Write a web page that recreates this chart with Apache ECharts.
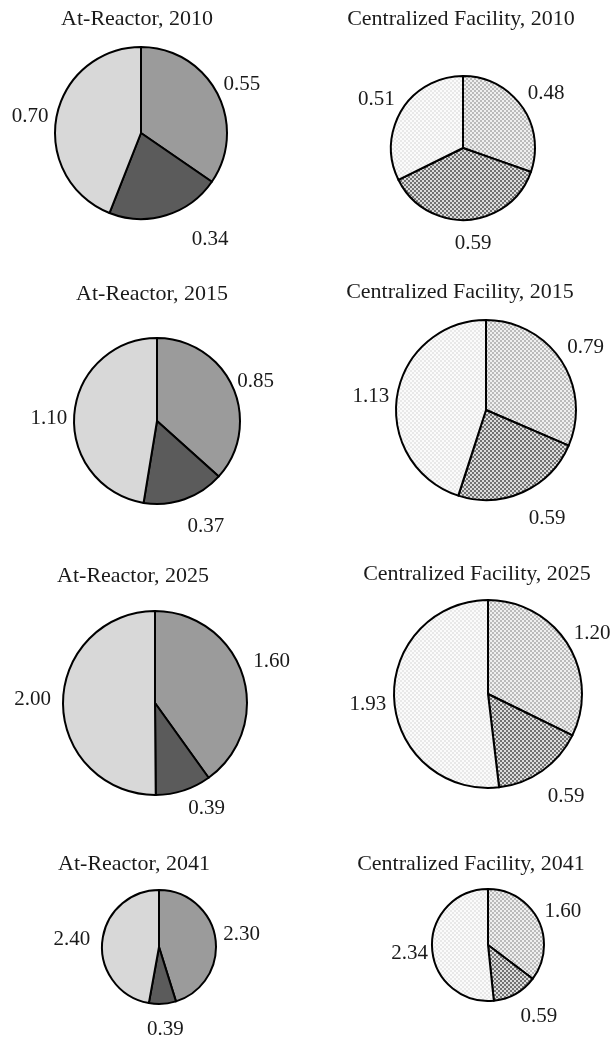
<!DOCTYPE html>
<html>
<head>
<meta charset="utf-8">
<script src="https://cdn.jsdelivr.net/npm/echarts@6/dist/echarts.min.js"></script>
<style>
html,body{margin:0;padding:0;background:#fff;}
#chart{width:614px;height:1037px;}
</style>
</head>
<body>
<div id="chart"></div>
<script>
// ---- data ----
const sliceNames = ['Segment A', 'Segment B', 'Segment C'];
const atReactorTitles = ['At-Reactor, 2010', 'At-Reactor, 2015', 'At-Reactor, 2025', 'At-Reactor, 2041'];
const centralTitles = ['Centralized Facility, 2010', 'Centralized Facility, 2015', 'Centralized Facility, 2025', 'Centralized Facility, 2041'];
const atReactor2010 = [0.55, 0.34, 0.70];
const atReactor2015 = [0.85, 0.37, 1.10];
const atReactor2025 = [1.60, 0.39, 2.00];
const atReactor2041 = [2.30, 0.39, 2.40];
const central2010 = [0.48, 0.59, 0.51];
const central2015 = [0.79, 0.59, 1.13];
const central2025 = [1.20, 0.59, 1.93];
const central2041 = [1.60, 0.59, 2.34];

// ---- layout / style ----
const FONT = 'Liberation Serif';
function checker(c1, c2, cell) {
  const cv = document.createElement('canvas');
  cv.width = cv.height = cell * 2;
  const g = cv.getContext('2d');
  g.fillStyle = c1; g.fillRect(0, 0, cell * 2, cell * 2);
  g.fillStyle = c2; g.fillRect(0, 0, cell, cell); g.fillRect(cell, cell, cell, cell);
  return { image: cv, repeat: 'repeat' };
}
const arColors = ['#9b9b9b', '#5b5b5b', '#d8d8d8'];
const cfColors = [checker('#efefef', '#bababa', 2), checker('#dcdcdc', '#727272', 2), checker('#fbfbfb', '#e8e8e8', 2)];

const panels = [
  { title: atReactorTitles[0], values: atReactor2010, colors: arColors, center: [141, 133], r: 86, tx: 137, ty: 20,
    nudge: [[-4, -6], [19, 18], [3, 1]] },
  { title: centralTitles[0], values: central2010, colors: cfColors, center: [463, 148], r: 72, tx: 461, ty: 20,
    nudge: [[-4, -9], [-18, 18], [3, -7]] },
  { title: atReactorTitles[1], values: atReactor2015, colors: arColors, center: [157, 421], r: 83, tx: 152, ty: 295,
    nudge: [[-6, -3], [-4, 22], [4, 5]] },
  { title: centralTitles[1], values: central2015, colors: cfColors, center: [486, 410], r: 90, tx: 460, ty: 293,
    nudge: [[-4, -10], [-2, 21], [3, 1]] },
  { title: atReactorTitles[2], values: atReactor2025, colors: arColors, center: [155, 703], r: 92, tx: 133, ty: 577,
    nudge: [[0, -12], [-2, 12], [-1, -4]] },
  { title: centralTitles[2], values: central2025, colors: cfColors, center: [488, 694], r: 94, tx: 477, ty: 575,
    nudge: [[-4, -8], [-3, 21], [3, 5]] },
  { title: atReactorTitles[3], values: atReactor2041, colors: arColors, center: [159, 947], r: 57, tx: 134, ty: 865,
    nudge: [[-3, -3], [-21, 20], [-1, -2]] },
  { title: centralTitles[3], values: central2041, colors: cfColors, center: [488, 945], r: 56, tx: 471, ty: 865,
    nudge: [[-4, -6], [-3, 17], [7, 5]] }
];

const chart = echarts.init(document.getElementById('chart'), null, { renderer: 'canvas' });
chart.setOption({
  animation: false,
  backgroundColor: '#ffffff',
  title: panels.map(p => ({
    text: p.title,
    left: p.tx,
    top: p.ty - 12,
    textAlign: 'center',
    padding: 0,
    textStyle: { fontFamily: FONT, fontSize: 22, fontWeight: 'normal', color: '#1a1a1a' }
  })),
  series: panels.map(p => ({
    type: 'pie',
    center: p.center,
    radius: [0, p.r],
    startAngle: 90,
    clockwise: true,
    avoidLabelOverlap: false,
    silent: true,
    data: p.values.map((v, i) => ({
      name: sliceNames[i],
      value: v,
      itemStyle: { color: p.colors[i] },
      label: { offset: p.nudge[i] }
    })),
    itemStyle: { borderColor: '#000', borderWidth: 2 },
    label: {
      show: true,
      position: 'outside',
      fontFamily: FONT,
      fontSize: 21,
      color: '#1a1a1a',
      formatter: params => params.value.toFixed(2)
    },
    labelLine: { show: false, length: 6, length2: 0 }
  }))
});
</script>
</body>
</html>
